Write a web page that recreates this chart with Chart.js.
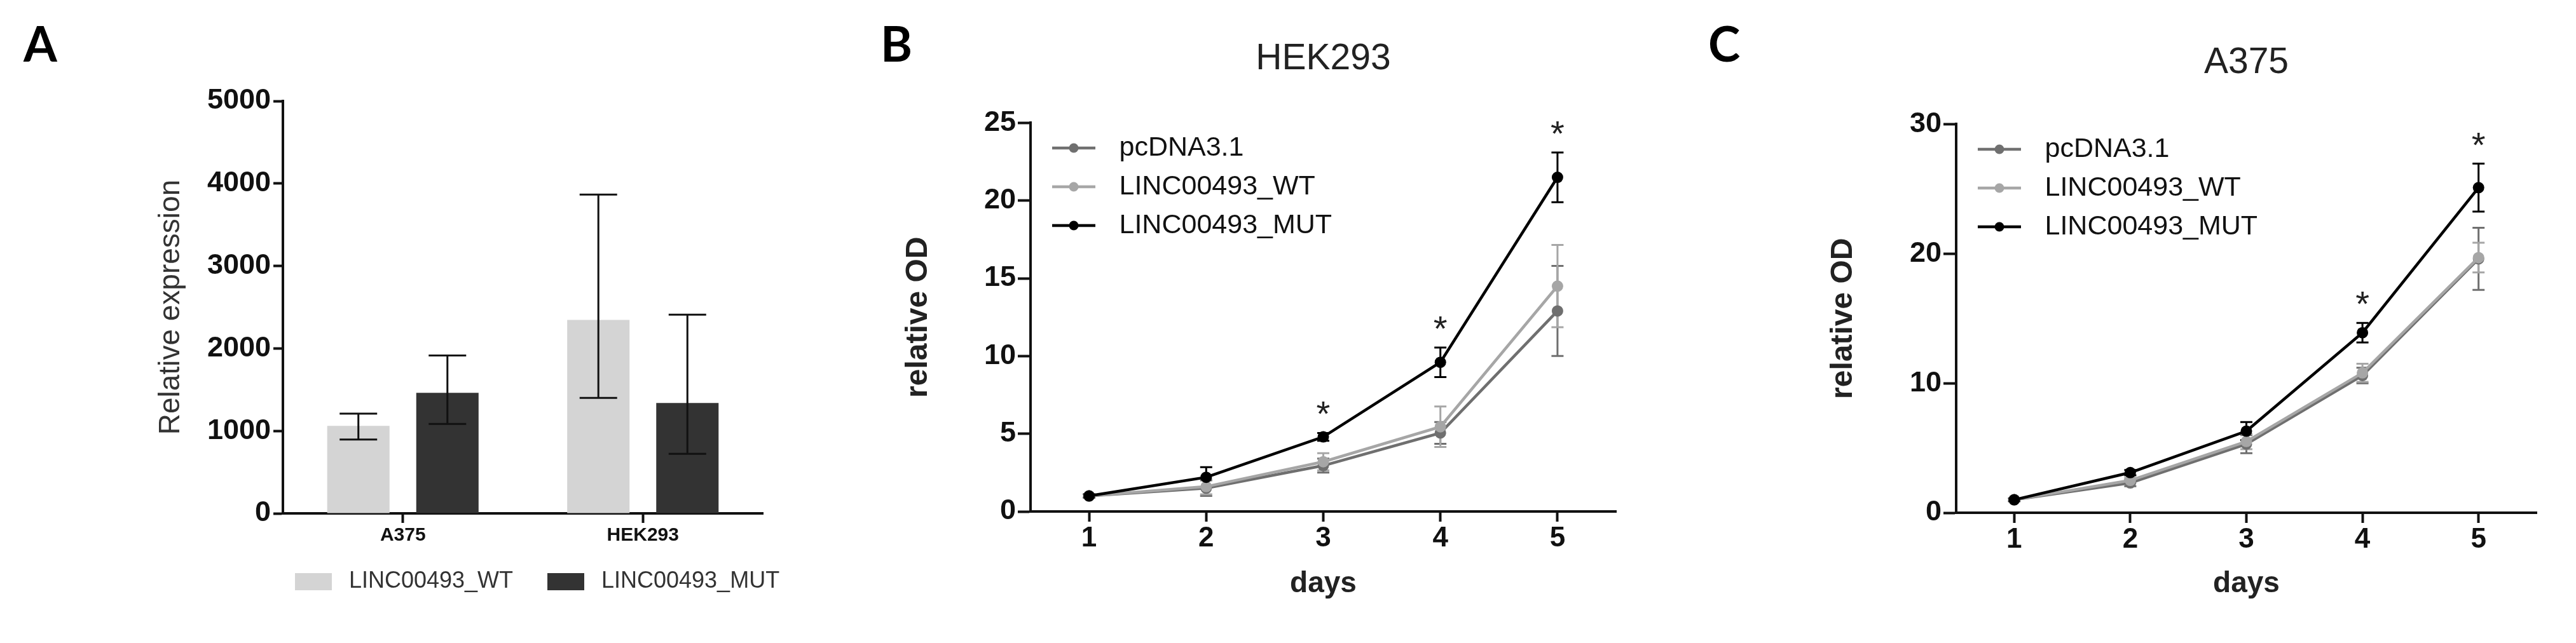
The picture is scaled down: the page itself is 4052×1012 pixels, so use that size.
<!DOCTYPE html>
<html>
<head>
<meta charset="utf-8">
<script src="https://cdn.jsdelivr.net/npm/chart.js@4.4.1/dist/chart.umd.min.js"></script>
<style>
  html, body { margin: 0; padding: 0; background: #fff; }
  #page { position: relative; width: 4052px; height: 1012px; overflow: hidden; }
  canvas { position: absolute; top: 0; }
</style>
</head>
<body>
<div id="page">
  <canvas id="chartA" width="1681" height="1012" style="left:0px"></canvas>
  <canvas id="chartB" width="1330" height="1012" style="left:1350px"></canvas>
  <canvas id="chartC" width="1372" height="1012" style="left:2680px"></canvas>
</div>
<script>
// panel A: relative expression
const cellLines = ['A375', 'HEK293'];
const wtExpression = [1062, 2345];
const wtExpressionHigh = [1210, 3865];
const wtExpressionLow = [895, 1400];
const mutExpression = [1462, 1338];
const mutExpressionHigh = [1915, 2410];
const mutExpressionLow = [1085, 723];

// panels B and C: growth curves (mean, error)
const days = ['1', '2', '3', '4', '5'];
const hekPcdna = [1.0, 1.5, 2.95, 5.05, 12.9];
const hekPcdnaErr = [0.1, 0.5, 0.45, 0.7, 2.9];
const hekWt = [1.0, 1.6, 3.2, 5.45, 14.5];
const hekWtErr = [0.1, 0.5, 0.55, 1.3, 2.65];
const hekMut = [1.0, 2.2, 4.8, 9.6, 21.5];
const hekMutErr = [0.1, 0.65, 0.25, 0.95, 1.6];
const hekStars = ['', '', '*', '*', '*'];

const a375Pcdna = [1.0, 2.3, 5.3, 10.6, 19.6];
const a375PcdnaErr = [0.1, 0.25, 0.7, 0.6, 2.4];
const a375Wt = [1.0, 2.5, 5.5, 10.8, 19.7];
const a375WtErr = [0.1, 0.2, 0.6, 0.7, 1.15];
const a375Mut = [1.0, 3.1, 6.3, 13.9, 25.1];
const a375MutErr = [0.1, 0.2, 0.7, 0.75, 1.85];
const a375Stars = ['', '', '', '*', '*'];

Chart.defaults.font.family = '"Liberation Sans", Arial, sans-serif';
Chart.defaults.color = '#222';

const PC_GREY = '#6f6f6f';
const WT_GREY = '#a6a6a6';
const MUT_BLACK = '#000000';

function drawErrors(chart, opts) {
  const { ctx } = chart;
  const y = chart.scales.y;
  ctx.save();
  ctx.lineWidth = opts.width;
  chart.data.datasets.forEach((ds, i) => {
    const points = chart.getDatasetMeta(i).data;
    ctx.strokeStyle = ds.errColor;
    ds.errHigh.forEach((hi, j) => {
      const x = points[j].x;
      const top = y.getPixelForValue(hi);
      const bottom = y.getPixelForValue(ds.errLow[j]);
      const half = opts.cap / 2;
      ctx.beginPath();
      ctx.moveTo(x, top); ctx.lineTo(x, bottom);
      ctx.moveTo(x - half, top); ctx.lineTo(x + half, top);
      ctx.moveTo(x - half, bottom); ctx.lineTo(x + half, bottom);
      ctx.stroke();
    });
  });
  ctx.restore();
}

const errorBars = {
  id: 'errorBars',
  beforeDatasetsDraw(chart, args, opts) { if (opts.under) drawErrors(chart, opts); },
  afterDatasetsDraw(chart, args, opts) { if (!opts.under) drawErrors(chart, opts); }
};

// the 'chartArea' legend comes back with top = 0, push it into the plot
const legendInPlot = {
  id: 'legendInPlot',
  afterLayout(chart) {
    const lg = chart.legend;
    const dy = chart.chartArea.top - lg.top;
    lg.top += dy;
    lg.bottom += dy;
  }
};

const panelMarks = {
  id: 'panelMarks',
  afterDraw(chart, args, opts) {
    const { ctx } = chart;
    ctx.save();
    ctx.fillStyle = '#000';
    ctx.font = 'bold 76px Lato';
    ctx.textAlign = 'left';
    ctx.textBaseline = 'alphabetic';
    ctx.fillText(opts.letter, opts.x, 97);
    chart.data.datasets.forEach((ds, i) => {
      if (!ds.stars) return;
      const points = chart.getDatasetMeta(i).data;
      ctx.font = '56px "Liberation Sans"';
      ctx.textAlign = 'center';
      ctx.fillStyle = '#222';
      ds.stars.forEach((s, j) => {
        if (!s) return;
        const top = chart.scales.y.getPixelForValue(ds.errHigh[j]);
        ctx.fillText(s, points[j].x, top - 11);
      });
    });
    ctx.restore();
  }
};

// small canvases used as legend symbols
function lineMark(color) {
  const c = document.createElement('canvas');
  c.width = 68; c.height = 20;
  const g = c.getContext('2d');
  g.strokeStyle = color; g.lineWidth = 4.5;
  g.beginPath(); g.moveTo(0, 10); g.lineTo(68, 10); g.stroke();
  g.fillStyle = color;
  g.beginPath(); g.arc(34, 10, 7.5, 0, Math.PI * 2); g.fill();
  return c;
}
function boxMark(color) {
  const c = document.createElement('canvas');
  c.width = 58; c.height = 27;
  const g = c.getContext('2d');
  g.fillStyle = color; g.fillRect(0, 0, 58, 27);
  return c;
}
function withMarks(marks) {
  return (chart) => {
    const items = Chart.defaults.plugins.legend.labels.generateLabels(chart);
    items.forEach(it => { it.pointStyle = marks[it.datasetIndex]; });
    return items;
  };
}

const axisLine = { display: true, color: '#111', width: 4 };
function axisGrid(len) {
  return { drawOnChartArea: false, drawTicks: true, tickLength: len, tickWidth: 4, tickColor: '#111' };
}

// A
new Chart(document.getElementById('chartA'), {
  type: 'bar',
  data: {
    labels: cellLines,
    datasets: [
      { label: 'LINC00493_WT', data: wtExpression, errHigh: wtExpressionHigh, errLow: wtExpressionLow,
        errColor: '#111', backgroundColor: '#d4d4d4' },
      { label: 'LINC00493_MUT', data: mutExpression, errHigh: mutExpressionHigh, errLow: mutExpressionLow,
        errColor: '#111', backgroundColor: '#333333' }
    ]
  },
  options: {
    responsive: false,
    animation: false,
    layout: { padding: { top: 159, left: 0, right: 0, bottom: 69 } },
    datasets: { bar: { categoryPercentage: 0.742, barPercentage: 0.7 } },
    scales: {
      x: {
        offset: true,
        grid: Object.assign(axisGrid(15), { offset: false }),
        border: axisLine,
        ticks: { font: { size: 30, weight: 'bold' }, padding: 2, color: '#111' },
        afterFit: s => { s.height = 44; }
      },
      y: {
        min: 0, max: 5000,
        grid: axisGrid(15),
        border: axisLine,
        ticks: { stepSize: 1000, callback: v => String(v), font: { size: 45, weight: 'bold' }, padding: 4, color: '#111' },
        title: { display: true, text: 'Relative expression', font: { size: 46 }, color: '#333', padding: { top: 242, bottom: 0 } },
        afterFit: s => { s.width = 445; }
      },
      // empty right-hand box: keeps the plot narrow while the legend row centres under it
      spacer: {
        type: 'linear', position: 'right',
        grid: { display: false }, border: { display: false }, ticks: { display: false },
        afterFit: s => { s.width = 481; }
      }
    },
    plugins: {
      legend: {
        position: 'bottom',
        labels: {
          usePointStyle: true, pointStyleWidth: 76, padding: 45,
          font: { size: 36 }, color: '#333',
          generateLabels: withMarks([boxMark('#d4d4d4'), boxMark('#333333')])
        }
      },
      tooltip: { enabled: false },
      errorBars: { under: false, width: 3, cap: 59 },
      panelMarks: { letter: 'A', x: 37 }
    }
  },
  plugins: [errorBars, panelMarks]
});

function growthChart(id, c) {
  const series = [
    { label: 'pcDNA3.1', data: c.pc, err: c.pcErr, color: PC_GREY, order: 3 },
    { label: 'LINC00493_WT', data: c.wt, err: c.wtErr, color: WT_GREY, order: 2 },
    { label: 'LINC00493_MUT', data: c.mut, err: c.mutErr, color: MUT_BLACK, order: 1, stars: c.stars }
  ];
  return new Chart(document.getElementById(id), {
    type: 'line',
    data: {
      labels: days,
      datasets: series.map(s => ({
        label: s.label,
        data: s.data,
        errHigh: s.data.map((v, i) => v + s.err[i]),
        errLow: s.data.map((v, i) => v - s.err[i]),
        errColor: s.color,
        stars: s.stars,
        order: s.order,
        borderColor: s.color,
        backgroundColor: s.color,
        borderWidth: 4.5,
        pointRadius: 9,
        pointBorderWidth: 0,
        pointBackgroundColor: s.color,
        tension: 0
      }))
    },
    options: {
      responsive: false,
      animation: false,
      layout: { padding: { top: 0, left: 0, right: c.padRight, bottom: 0 } },
      scales: {
        x: {
          offset: true,
          grid: axisGrid(16),
          border: axisLine,
          ticks: { font: { size: 44, weight: 'bold' }, padding: 0, color: '#111' },
          title: { display: true, text: 'days', font: { size: 46, weight: 'bold' }, color: '#222', padding: { top: 0, bottom: 65 } },
          afterFit: s => { s.height = c.xHeight; }
        },
        y: {
          min: 0, max: c.yMax,
          grid: axisGrid(20),
          border: axisLine,
          ticks: { stepSize: c.yStep, font: { size: 45, weight: 'bold' }, padding: 3, color: '#111' },
          title: { display: true, text: 'relative OD', font: { size: 48, weight: 'bold' }, color: '#222', padding: { top: c.yTitlePad, bottom: 0 } },
          afterFit: s => { s.width = c.yWidth; }
        }
      },
      plugins: {
        title: {
          display: true, text: c.title, fullSize: false,
          font: { size: 57, weight: 'normal' }, color: '#222',
          padding: c.titlePad
        },
        legend: {
          position: 'chartArea',
          align: 'start',
          labels: {
            usePointStyle: true, pointStyleWidth: 100, padding: 18,
            font: { size: 43 }, color: '#111',
            sort: (a, b) => a.datasetIndex - b.datasetIndex,
            generateLabels: withMarks(series.map(s => lineMark(s.color)))
          }
        },
        tooltip: { enabled: false },
        errorBars: { under: true, width: 3, cap: 19 },
        panelMarks: { letter: c.letter, x: c.letterX }
      }
    },
    plugins: [errorBars, legendInPlot, panelMarks]
  });
}

// B
growthChart('chartB', {
  title: 'HEK293', letter: 'B', letterX: 35,
  pc: hekPcdna, pcErr: hekPcdnaErr, wt: hekWt, wtErr: hekWtErr, mut: hekMut, mutErr: hekMutErr, stars: hekStars,
  yMax: 25, yStep: 5, yWidth: 271, yTitlePad: 66, padRight: 138, xHeight: 207,
  titlePad: { top: 59, bottom: 66 }
});

// C
growthChart('chartC', {
  title: 'A375', letter: 'C', letterX: 7,
  pc: a375Pcdna, pcErr: a375PcdnaErr, wt: a375Wt, wtErr: a375WtErr, mut: a375Mut, mutErr: a375MutErr, stars: a375Stars,
  yMax: 30, yStep: 10, yWidth: 397, yTitlePad: 191, padRight: 62, xHeight: 205,
  titlePad: { top: 65, bottom: 62 }
});
</script>
</body>
</html>
